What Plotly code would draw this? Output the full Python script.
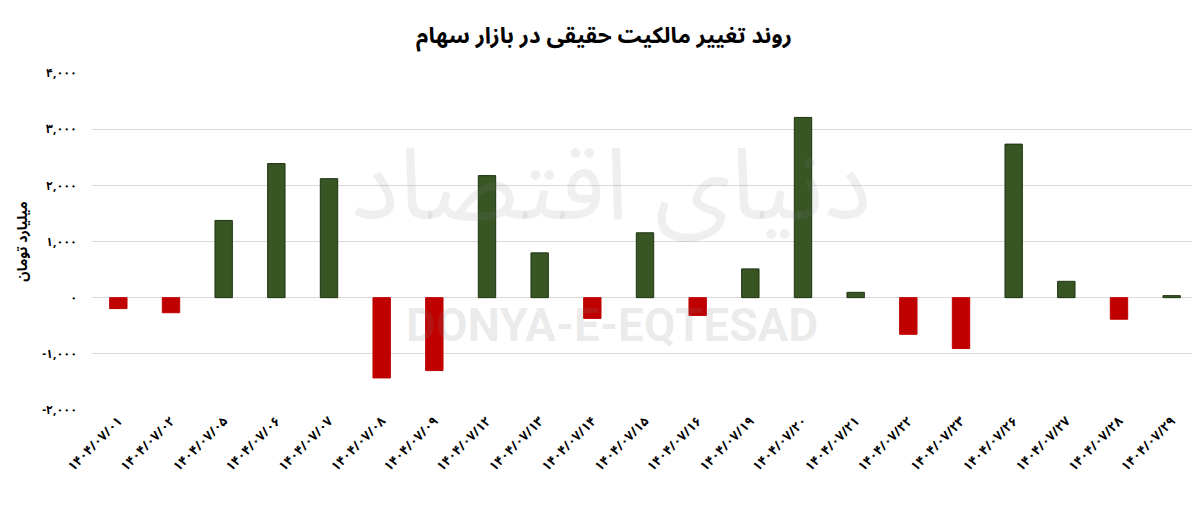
import plotly.graph_objects as go

dates = ["۱۴۰۴/۰۷/۰۱", "۱۴۰۴/۰۷/۰۲", "۱۴۰۴/۰۷/۰۵", "۱۴۰۴/۰۷/۰۶", "۱۴۰۴/۰۷/۰۷",
         "۱۴۰۴/۰۷/۰۸", "۱۴۰۴/۰۷/۰۹", "۱۴۰۴/۰۷/۱۲", "۱۴۰۴/۰۷/۱۳", "۱۴۰۴/۰۷/۱۴",
         "۱۴۰۴/۰۷/۱۵", "۱۴۰۴/۰۷/۱۶", "۱۴۰۴/۰۷/۱۹", "۱۴۰۴/۰۷/۲۰", "۱۴۰۴/۰۷/۲۱",
         "۱۴۰۴/۰۷/۲۲", "۱۴۰۴/۰۷/۲۳", "۱۴۰۴/۰۷/۲۶", "۱۴۰۴/۰۷/۲۷", "۱۴۰۴/۰۷/۲۸",
         "۱۴۰۴/۰۷/۲۹"]
values = [-195, -268, 1375, 2387, 2119, -1429, -1298, 2173, 798, -369,
          1155, -316, 512, 3209, 95, -652, -905, 2734, 291, -384, 36]

y_tickvals = [-2000, -1000, 0, 1000, 2000, 3000, 4000]
y_ticktext = ["-۲,۰۰۰", "-۱,۰۰۰", "۰", "۱,۰۰۰", "۲,۰۰۰", "۳,۰۰۰", "۴,۰۰۰"]

title_text = "روند تغییر مالکیت حقیقی در بازار سهام"
y_title = "میلیارد تومان"
watermark_fa = "دنیای اقتصاد"
watermark_en = "DONYA-E-EQTESAD"

GREEN = "#375623"
RED = "#C00000"
colors = [GREEN if v >= 0 else RED for v in values]
lines = ["#1E3311" if v >= 0 else RED for v in values]

FONT = "Noto Sans Arabic, DejaVu Sans, sans-serif"

fig = go.Figure(go.Bar(
    x=dates, y=values,
    marker=dict(color=colors, line=dict(color=lines, width=1)),
))

# page body adds an 8px offset, so the figure is 1192x504
fig.update_layout(
    width=1192, height=504,
    paper_bgcolor="white", plot_bgcolor="white",
    margin=dict(l=84, r=2, t=65, b=102),
    bargap=0.67,
    showlegend=False,
    font=dict(family=FONT, color="black"),
    title=dict(text="<b>" + title_text + "</b>", x=0.5, xanchor="center",
               yref="container", y=1 - 27 / 504, yanchor="middle",
               font=dict(size=22.5, family=FONT, color="black")),
    xaxis=dict(
        type="category", tickangle=-45, showgrid=False, showline=False,
        ticks="", tickfont=dict(size=13, family=FONT, color="black", weight="bold"),
    ),
    yaxis=dict(
        range=[-2000, 4000], tickvals=y_tickvals, ticktext=y_ticktext,
        showgrid=True, gridcolor="#D9D9D9", gridwidth=1,
        zeroline=True, zerolinecolor="#D9D9D9", zerolinewidth=1,
        showline=False, ticks="", ticklabelstandoff=14,
        tickfont=dict(size=12, family=FONT, color="black", weight="bold"),
        title=dict(text=y_title, standoff=20,
                   font=dict(size=14, family=FONT, color="black", weight="bold")),
    ),
)

fig.add_annotation(
    text="<b>" + watermark_en + "</b>", xref="paper", yref="paper",
    x=0.47, y=0.252, xanchor="center", yanchor="middle", showarrow=False,
    font=dict(size=46, family="Roboto, Arial, sans-serif", color="rgba(128,128,128,0.16)"),
)
fig.add_annotation(
    text=watermark_fa, xref="paper", yref="paper",
    x=0.47, y=0.66, xanchor="center", yanchor="middle", showarrow=False,
    font=dict(size=100, family=FONT, color="rgba(128,128,128,0.13)"),
)

fig.write_html("out.html")
